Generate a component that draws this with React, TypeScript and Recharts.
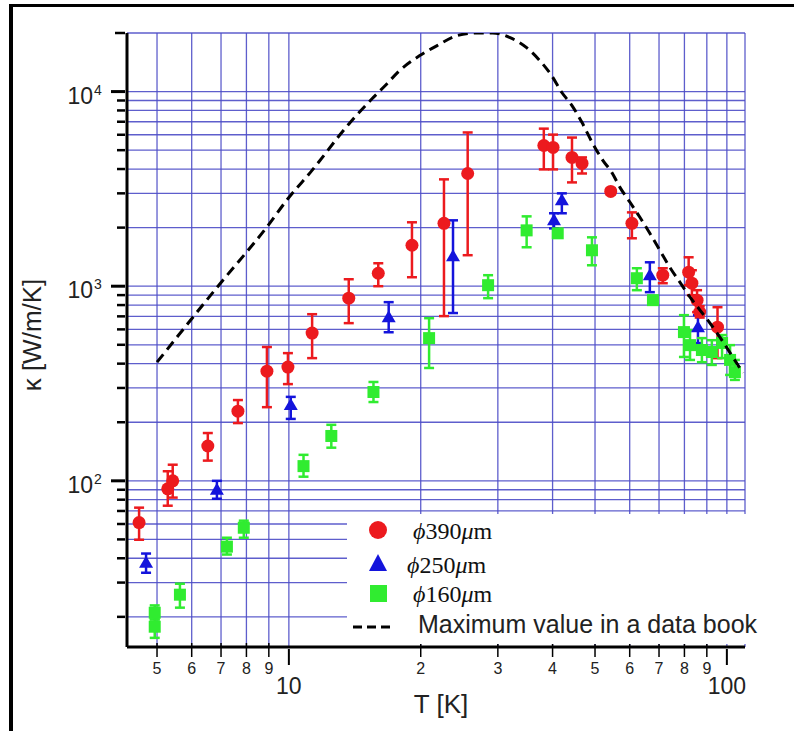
import React from 'react';
import { ScatterChart, Scatter, XAxis, YAxis, CartesianGrid, ErrorBar, Legend } from 'recharts';

// phi 390 um (red circles): temperature, conductivity, error bar low / high
const t390 = [4.55, 5.29, 5.43, 6.53, 7.65, 8.91, 9.95, 11.3, 13.7, 16.0, 19.1, 22.6, 25.6, 38.2, 40.1, 44.3, 46.7, 54.3, 60.7, 71.4, 81.8, 83.2, 85.5, 86.7, 95.2];
const k390 = [61, 91, 100, 151, 228, 366, 384, 574, 868, 1166, 1623, 2104, 3795, 5285, 5165, 4590, 4275, 3068, 2104, 1139, 1180, 1036, 848, 736, 616];
const lo390 = [49.8, 74.5, 82, 127, 198, 239, 314, 427, 646, 1000, 1112, 702, 1443, 3982, 3982, 3415, 3795, 2960, 1763, 1036, 1012, 899, 736, 690, 427];
const hi390 = [72.8, 112, 121, 176, 260, 487, 453, 718, 1086, 1312, 2130, 3540, 6166, 6450, 6010, 5805, 4590, 3180, 2395, 1237, 1408, 1208, 954, 790, 780];

// phi 250 um (blue triangles)
const t250 = [4.72, 6.85, 10.1, 16.9, 23.7, 40.3, 42.0, 66.7, 85.9];
const k250 = [37.9, 89.9, 245, 693, 1425, 2180, 2762, 1139, 616];
const lo250 = [33.7, 80.9, 208, 580, 728, 1982, 2370, 932, 510];
const hi250 = [42.3, 100, 270, 828, 2180, 2370, 3000, 1327, 710];

// phi 160 um (green squares)
const t160 = [4.94, 4.94, 5.64, 7.22, 7.89, 10.8, 12.5, 15.6, 20.9, 28.5, 34.9, 41.1, 49.2, 62.3, 67.8, 79.8, 82.4, 87.7, 92.4, 97.5, 101.7, 104.3];
const k160 = [21.0, 17.8, 26.0, 45.9, 57.4, 119, 170, 286, 541, 1012, 1936, 1870, 1530, 1099, 848, 581, 498, 470, 459, 511, 418, 362];
const lo160 = [19.4, 15.6, 22.3, 41.8, 51, 105, 148, 254, 380, 868, 1585, 1800, 1281, 954, 820, 433, 418, 407, 394, 427, 350, 330];
const hi160 = [22.9, 19.4, 29.6, 51, 62.4, 136, 194, 322, 685, 1139, 2285, 1940, 1783, 1237, 880, 710, 595, 541, 528, 561, 498, 418];

// data book maximum (dashed curve)
const tBook = [5, 6.89, 8.9, 10, 11.2, 13.8, 15.5, 16.6, 17.9, 19.9, 21.8, 24.2, 26.9, 29.2, 32.0, 34.9, 37.4, 39.8, 42.0, 44.3, 46.7, 49.4, 52.1, 54.6, 57.0, 60.1, 63.3, 66.7, 70.3, 74.1, 78.1, 82.4, 86.8, 91.5, 96.4, 103.2, 108.8];
const kBook = [407, 1000, 2010, 2856, 3846, 6940, 9210, 10740, 12830, 15310, 17230, 19380, 20000, 20000, 18920, 16820, 14430, 12080, 9890, 8475, 6930, 5410, 4430, 3845, 3220, 2700, 2260, 1870, 1530, 1250, 1049, 879, 754, 646, 547, 432, 358];

const xTicks = [5, 6, 7, 8, 9, 10, 20, 30, 40, 50, 60, 70, 80, 90, 100];
const xMajor = [10, 100];
const yTicks = [20, 30, 40, 50, 60, 70, 80, 90, 100, 200, 300, 400, 500, 600, 700, 800, 900, 1000, 2000, 3000, 4000, 5000, 6000, 7000, 8000, 9000, 10000, 20000];
const yMajor = [100, 1000, 10000];

const seriesNames = ['390', '250', '160'];
const bookName = 'Maximum value in a data book';

const RED = '#ec1a1e';
const BLUE = '#1414dc';
const GREEN = '#30ec30';
const SANS = "'Liberation Sans', Arial, sans-serif";
const SERIF = "'Liberation Serif', 'DejaVu Serif', serif";

const buildRows = (t: number[], k: number[], lo: number[], hi: number[]) =>
  t.map((v, i) => ({ t: v, k: k[i], err: [k[i] - lo[i], hi[i] - k[i]] }));

const rows390 = buildRows(t390, k390, lo390, hi390);
const rows250 = buildRows(t250, k250, lo250, hi250);
const rows160 = buildRows(t160, k160, lo160, hi160);
const bookRows = tBook.map((v, i) => ({ t: v, k: kBook[i] }));

const XTick = (props: any) => {
  const { x, y, payload } = props;
  const v = payload.value;
  if (xMajor.includes(v)) {
    return (
      <g>
        <line x1={x} x2={x} y1={y} y2={y + 16} stroke="#000" strokeWidth={2} />
        <text x={x} y={y + 45} textAnchor="middle" fontSize={23} fontFamily={SANS} fill="#222">{v}</text>
      </g>
    );
  }
  return (
    <g>
      <line x1={x} x2={x} y1={y - 6} y2={y + 8} stroke="#000" strokeWidth={1.5} />
      <text x={x} y={y + 25} textAnchor="middle" fontSize={16} fontFamily="'Liberation Sans Narrow', 'Liberation Sans', sans-serif" fill="#222">
        {String(v).charAt(0)}
      </text>
    </g>
  );
};

const YTick = (props: any) => {
  const { x, y, payload } = props;
  const v = payload.value;
  if (yMajor.includes(v)) {
    return (
      <g>
        <line x1={x - 14} x2={x} y1={y} y2={y} stroke="#000" strokeWidth={3} />
        <text x={x - 32} y={y + 12} textAnchor="end" fontSize={23} fontFamily={SANS} fill="#222">10</text>
        <text x={x - 31} y={y + 3} fontSize={14} fontFamily={SANS} fill="#222">{Math.round(Math.log10(v))}</text>
      </g>
    );
  }
  return <line x1={x - (v === 20000 ? 10 : 8)} x2={x} y1={y} y2={y} stroke="#000" strokeWidth={2.5} />;
};

const Circle = (p: any) => <circle cx={p.cx} cy={p.cy} r={6.5} fill={RED} />;
const Triangle = (p: any) => (
  <polygon points={`${p.cx},${p.cy - 7} ${p.cx + 7},${p.cy + 5} ${p.cx - 7},${p.cy + 5}`} fill={BLUE} />
);
const Square = (p: any) => <rect x={p.cx - 6} y={p.cy - 6} width={12} height={12} fill={GREEN} />;

const SeriesLabel = ({ x, y, num }: { x: number; y: number; num: string }) => (
  <text x={x} y={y} fontSize={24} fontFamily={SERIF} fill="#111">
    <tspan fontStyle="italic">ϕ</tspan>
    <tspan>{num}</tspan>
    <tspan fontStyle="italic">μ</tspan>
    <tspan>m</tspan>
  </text>
);

const LegendBox = () => (
  <svg width={440} height={130} style={{ display: 'block', background: '#fff' }}>
    <circle cx={31} cy={16} r={9} fill={RED} />
    <SeriesLabel x={66} y={25} num={seriesNames[0]} />
    <polygon points="31,40 40,57 22,57" fill={BLUE} />
    <SeriesLabel x={60} y={59} num={seriesNames[1]} />
    <rect x={23} y={71} width={17} height={17} fill={GREEN} />
    <SeriesLabel x={66} y={88} num={seriesNames[2]} />
    <line x1={6} x2={46} y1={113} y2={113} stroke="#000" strokeWidth={3} strokeDasharray="9 5" />
    <text x={71} y={119} fontSize={25} fontFamily={SANS} fill="#222">{bookName}</text>
  </svg>
);

export default function App() {
  return (
    <div style={{ position: 'relative', width: 794, height: 731, overflow: 'hidden', background: '#fff' }}>
      <style>{'body{margin:0;background:#fff}'}</style>
      <ScatterChart width={794} height={731} margin={{ top: 33, right: 49, bottom: 0, left: 0 }}>
        <CartesianGrid stroke="#4c4cc6" strokeWidth={1.3} strokeOpacity={0.9} />
        <XAxis
          type="number"
          dataKey="t"
          scale="log"
          domain={[4.27, 110]}
          allowDataOverflow
          ticks={xTicks}
          interval={0}
          tick={<XTick />}
          tickLine={false}
          tickSize={0}
          height={84}
          axisLine={{ stroke: '#000', strokeWidth: 3 }}
          label={({ viewBox }: any) => (
            <text x={viewBox.x + 314} y={viewBox.y + 66} textAnchor="middle" fontSize={26} fontFamily={SANS} fill="#222">
              T [K]
            </text>
          )}
        />
        <YAxis
          type="number"
          dataKey="k"
          scale="log"
          domain={[14, 20000]}
          allowDataOverflow
          ticks={yTicks}
          interval={0}
          tick={<YTick />}
          tickLine={false}
          tickSize={0}
          width={127}
          axisLine={{ stroke: '#000', strokeWidth: 3 }}
          label={() => (
            <text x={32} y={335} transform="rotate(-90 32 335)" textAnchor="middle" dominantBaseline="central" fontSize={26} fontFamily={SANS} fill="#222">
              κ [W/m/K]
            </text>
          )}
        />
        <Scatter name="390" data={rows390} shape={<Circle />} isAnimationActive={false}>
          <ErrorBar dataKey="err" direction="y" width={5} stroke={RED} strokeWidth={2.5} isAnimationActive={false} />
        </Scatter>
        <Scatter name="250" data={rows250} shape={<Triangle />} isAnimationActive={false}>
          <ErrorBar dataKey="err" direction="y" width={5} stroke={BLUE} strokeWidth={2.5} isAnimationActive={false} />
        </Scatter>
        <Scatter name="160" data={rows160} shape={<Square />} isAnimationActive={false}>
          <ErrorBar dataKey="err" direction="y" width={5} stroke={GREEN} strokeWidth={2.5} isAnimationActive={false} />
        </Scatter>
        <Scatter
          name="book"
          data={bookRows}
          line={{ stroke: '#000', strokeWidth: 3, strokeDasharray: '10 6' }}
          lineJointType="monotoneX"
          shape={() => <g />}
          isAnimationActive={false}
        />
        <Legend
          layout="vertical"
          align="center"
          verticalAlign="middle"
          wrapperStyle={{ left: 347, top: 514, width: 440, height: 130 }}
          content={() => <LegendBox />}
        />
      </ScatterChart>
      <div
        style={{
          position: 'absolute',
          left: 9,
          top: 4,
          width: 820,
          height: 760,
          borderTop: '3px solid #000',
          borderLeft: '4px solid #000',
          pointerEvents: 'none',
        }}
      />
    </div>
  );
}
